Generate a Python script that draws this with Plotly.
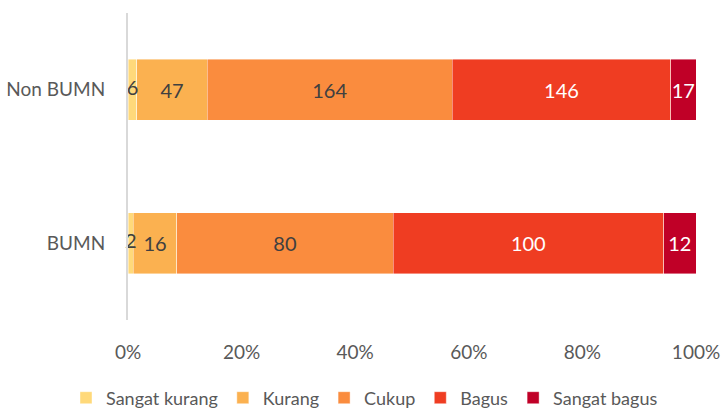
import plotly.graph_objects as go

categories = ["BUMN", "Non BUMN"]
series_names = ["Sangat kurang", "Kurang", "Cukup", "Bagus", "Sangat bagus"]
sangat_kurang = [2, 6]
kurang = [16, 47]
cukup = [80, 164]
bagus = [100, 146]
sangat_bagus = [12, 17]
tick_vals = [0, 20, 40, 60, 80, 100]
tick_text = ["0%", "20%", "40%", "60%", "80%", "100%"]

colors = ["#FFD97A", "#FBB150", "#FA8C3E", "#EF3D22", "#C00027"]
text_colors = ["#404040", "#404040", "#404040", "#FFFFFF", "#FFFFFF"]
values = [sangat_kurang, kurang, cukup, bagus, sangat_bagus]

FONT = "Lato"

fig = go.Figure()
for i, (name, vals, col, tcol) in enumerate(zip(series_names, values, colors, text_colors)):
    fig.add_trace(go.Bar(
        name=name, y=categories, x=vals, orientation="h",
        marker=dict(color=col, line=dict(color="rgba(255,255,255,0.6)", width=0.7)),
        text=[str(v) for v in vals], textposition="none" if i == 0 else "inside",
        insidetextanchor="middle", constraintext="none", textangle=0,
        textfont=dict(family=FONT, size=20, color=tcol),
    ))

# labels of the thin first segment, drawn on top so they may overflow
totals = [sum(v[k] for v in values) for k in range(len(categories))]
first_mid = [sangat_kurang[k] / totals[k] * 100 / 2 for k in range(len(categories))]
fig.add_trace(go.Scatter(
    x=first_mid, y=categories, mode="text", text=[str(v) for v in sangat_kurang],
    textposition="middle center", textfont=dict(family=FONT, size=20, color="#404040"),
    showlegend=False, hoverinfo="skip", cliponaxis=False,
))

fig.update_layout(
    barmode="stack", barnorm="percent", bargap=0.6,
    width=721, height=409,
    margin=dict(l=128, r=25, t=13, b=89, autoexpand=False),
    paper_bgcolor="white", plot_bgcolor="white",
    font=dict(family=FONT, size=19, color="#595959"),
    xaxis=dict(range=[0, 100], tickvals=tick_vals, ticktext=tick_text,
               showgrid=False, zeroline=False, showline=False, ticks="",
               ticklabelstandoff=19, tickfont=dict(size=19, color="#595959")),
    yaxis=dict(showgrid=False, zeroline=False, showline=True, linecolor="#D9D9D9",
               linewidth=2, ticks="", ticklabelstandoff=17,
               tickfont=dict(size=19, color="#595959")),
    legend=dict(orientation="h", xref="paper", yref="paper",
                x=(66 - 128) / 568, xanchor="left", y=(320 - 398) / 307, yanchor="middle",
                font=dict(size=18, color="#595959"), traceorder="normal",
                itemwidth=30),
)

fig.write_html("out.html", config={"displayModeBar": False},
               post_script="document.body.style.margin='0';")
